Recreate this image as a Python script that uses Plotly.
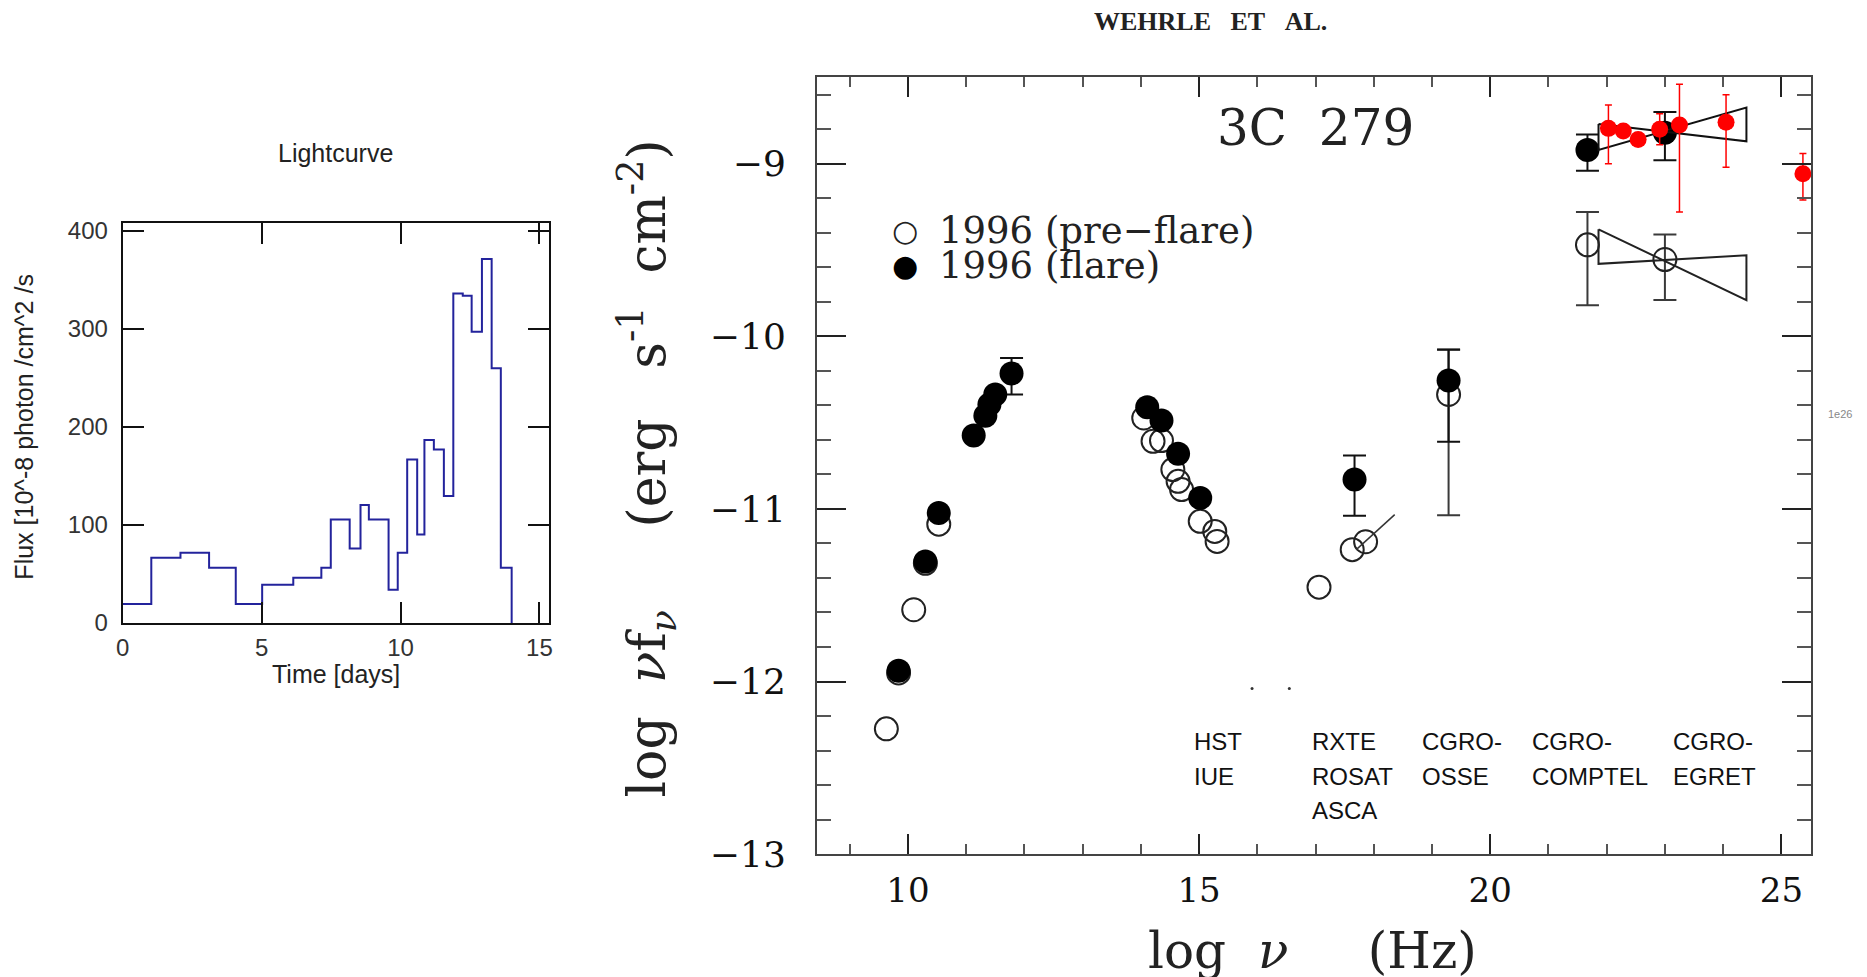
import plotly.graph_objects as go

# ---------------- Lightcurve data ----------------
time_edges = [0, 1.03, 2.08, 3.11, 4.07, 5.02, 6.14, 7.15, 7.49, 8.17, 8.56, 8.86, 9.57,
              9.90, 10.24, 10.60, 10.86, 11.20, 11.56, 11.90, 12.24, 12.56, 12.93, 13.28,
              13.61, 14.0]
flux = [19.4, 66.4, 71.5, 56.2, 19.4, 39.1, 46.0, 56.2, 105.5, 75.9, 120.2, 105.5, 34.0,
        71.5, 166.8, 90.2, 186.6, 177.0, 129.4, 336.0, 333.6, 296.9, 371.1, 259.7, 56.2]

# ---------------- SED data (log nu, log nuFnu) ----------------
flare_x = [9.84, 10.30, 10.53, 11.13, 11.33, 11.40, 11.50, 11.78, 14.11, 14.355, 14.64,
           15.02, 17.67, 19.285, 21.67, 23.00]
flare_y = [-11.938, -11.304, -11.024, -10.575, -10.46, -10.395, -10.337, -10.215, -10.411,
           -10.488, -10.68, -10.937, -10.83, -10.256, -8.92, -8.82]

flare_err_x = [11.78, 17.67, 19.285, 21.67, 23.00]
flare_err_y = [-10.215, -10.83, -10.256, -8.92, -8.82]
flare_err_hi = [0.09, 0.14, 0.18, 0.09, 0.12]
flare_err_lo = [0.122, 0.21, 0.354, 0.12, 0.16]

pre_x = [9.63, 9.84, 10.10, 10.30, 10.53, 14.05, 14.21, 14.355, 14.55, 14.64, 14.70, 15.02,
         15.27, 15.31, 17.06, 17.63, 17.86, 19.285, 21.67, 23.00]
pre_y = [-12.274, -11.95, -11.584, -11.315, -11.088, -10.473, -10.608, -10.604, -10.772,
         -10.84, -10.888, -11.072, -11.13, -11.188, -11.453, -11.236, -11.19, -10.337,
         -9.47, -9.555]

pre_err_x = [19.285, 21.67, 23.00]
pre_err_y = [-10.337, -9.47, -9.555]
pre_err_hi = [0.26, 0.19, 0.145]
pre_err_lo = [0.70, 0.35, 0.235]

egret_x = [22.03, 22.285, 22.54, 22.91, 23.25, 24.05, 25.37]
egret_y = [-8.795, -8.81, -8.86, -8.80, -8.776, -8.76, -9.058]
egret_hi = [0.135, 0, 0, 0.09, 0.236, 0.16, 0.118]
egret_lo = [0.205, 0, 0, 0.09, 0.504, 0.26, 0.152]

# RXTE power-law segment
rxte_x = [17.70, 18.36]
rxte_y = [-11.236, -11.033]

# bow-tie spectral fits: x edges and (top, bottom) at each edge
bow_x = [21.86, 24.40]
bow_flare_left = [-8.77, -8.92]     # top, bottom
bow_flare_right = [-8.675, -8.87]
bow_pre_left = [-9.38, -9.58]
bow_pre_right = [-9.53, -9.79]

stray_x = [15.91, 16.55]
stray_y = [-12.04, -12.04]

band_labels = [("HST", "IUE"), ("RXTE", "ROSAT", "ASCA"), ("CGRO-", "OSSE"),
               ("CGRO-", "COMPTEL"), ("CGRO-", "EGRET")]
band_x = [14.875, 16.90, 18.79, 20.69, 23.10]
band_y0 = -12.35
band_dy = 0.2

# ---------------- page geometry ----------------
W, H = 1867, 1005


def px(v):
    # horizontal position (pixels from left of the reference) -> paper fraction
    return (v - 4.8) / (0.996 * W)


def py(v):
    # vertical position (pixels from top of the reference) -> paper fraction
    return 1 - (v - 5.67) / 976.5


fig = go.Figure()

# ---------------- Lightcurve ----------------
fig.add_trace(go.Scatter(x=time_edges, y=flux + [0], mode="lines", line_shape="hv",
                         line=dict(color="#23239c", width=2), xaxis="x", yaxis="y",
                         showlegend=False, hoverinfo="skip"))

# ---------------- SED ----------------
fig.add_trace(go.Scatter(x=pre_err_x, y=pre_err_y, mode="markers",
                         marker=dict(size=1, color="rgba(0,0,0,0)"),
                         error_y=dict(type="data", array=pre_err_hi, arrayminus=pre_err_lo,
                                      color="#3a3a3a", thickness=2, width=11.5),
                         xaxis="x2", yaxis="y2", showlegend=False))
fig.add_trace(go.Scatter(x=flare_err_x, y=flare_err_y, mode="markers",
                         marker=dict(size=1, color="rgba(0,0,0,0)"),
                         error_y=dict(type="data", array=flare_err_hi, arrayminus=flare_err_lo,
                                      color="#111", thickness=2, width=11.5),
                         xaxis="x2", yaxis="y2", showlegend=False))
fig.add_trace(go.Scatter(x=pre_x, y=pre_y, mode="markers", name="1996 (pre-flare)",
                         marker=dict(symbol="circle-open", size=23, color="#222",
                                     line=dict(width=2)),
                         xaxis="x2", yaxis="y2", showlegend=False))
fig.add_trace(go.Scatter(x=flare_x, y=flare_y, mode="markers", name="1996 (flare)",
                         marker=dict(symbol="circle", size=24, color="#000"),
                         xaxis="x2", yaxis="y2", showlegend=False))

# bow ties
for left, right, col in [(bow_flare_left, bow_flare_right, "#111"),
                         (bow_pre_left, bow_pre_right, "#222")]:
    bx = [bow_x[0], bow_x[1], bow_x[1], bow_x[0], bow_x[0]]
    by = [left[0], right[1], right[0], left[1], left[0]]
    fig.add_trace(go.Scatter(x=bx, y=by, mode="lines", line=dict(color=col, width=2),
                             xaxis="x2", yaxis="y2", showlegend=False, hoverinfo="skip"))

fig.add_trace(go.Scatter(x=rxte_x, y=rxte_y, mode="lines", line=dict(color="#333", width=1.5),
                         xaxis="x2", yaxis="y2", showlegend=False, hoverinfo="skip"))
fig.add_trace(go.Scatter(x=stray_x, y=stray_y, mode="markers",
                         marker=dict(size=3, color="#333"),
                         xaxis="x2", yaxis="y2", showlegend=False, hoverinfo="skip"))

fig.add_trace(go.Scatter(x=egret_x, y=egret_y, mode="markers",
                         marker=dict(symbol="circle", size=17, color="#ff0000"),
                         error_y=dict(type="data", array=egret_hi, arrayminus=egret_lo,
                                      color="#ff0000", thickness=1.5, width=3.5),
                         xaxis="x2", yaxis="y2", showlegend=False))

annotations = []
# band labels
for lines, bx in zip(band_labels, band_x):
    for i, t in enumerate(lines):
        annotations.append(dict(x=bx, y=band_y0 - i * band_dy, xref="x2", yref="y2",
                                text=t, showarrow=False, xanchor="left", yanchor="middle",
                                font=dict(family="Liberation Sans", size=24, color="#111")))

NB = "\u00a0"
annotations += [
    dict(x=17.0, y=-8.795, xref="x2", yref="y2", text="3C" + NB * 2 + "279", showarrow=False,
         font=dict(family="DejaVu Serif", size=50, color="#222"), xanchor="center",
         yanchor="middle"),
    # legend
    dict(x=px(905), y=py(229.8), xref="paper", yref="paper", text="\u25cb", showarrow=False,
         font=dict(family="DejaVu Sans", size=30, color="#222"), xanchor="center",
         yanchor="middle"),
    dict(x=px(905), y=py(264.3), xref="paper", yref="paper", text="\u25cf", showarrow=False,
         font=dict(family="DejaVu Sans", size=30, color="#000"), xanchor="center",
         yanchor="middle"),
    dict(x=px(937), y=py(229.8), xref="paper", yref="paper", text="1996 (pre\u2212flare)",
         showarrow=False, font=dict(family="DejaVu Serif", size=37, color="#222"),
         xanchor="left", yanchor="middle"),
    dict(x=px(937), y=py(264.3), xref="paper", yref="paper", text="1996 (flare)",
         showarrow=False, font=dict(family="DejaVu Serif", size=37, color="#222"),
         xanchor="left", yanchor="middle"),
    # axis titles SED
    dict(x=px(1313), y=py(949), xref="paper", yref="paper",
         text="log" + NB * 2 + "<i>\u03bd</i>" + NB * 5 + "(Hz)", showarrow=False,
         font=dict(family="DejaVu Serif", size=50, color="#222"), xanchor="center",
         yanchor="middle"),
    dict(x=px(646.5), y=py(467), xref="paper", yref="paper", textangle=-90,
         text="log" + NB * 2 + "<i>\u03bd</i>f<sub><i>\u03bd</i></sub>" + NB * 5 + "(erg" + NB * 3
              + "s<sup>-1</sup>" + NB * 2 + "cm<sup>-2</sup>)",
         showarrow=False, font=dict(family="DejaVu Serif", size=52, color="#222"),
         xanchor="center", yanchor="middle"),
    # header
    dict(x=px(1211), y=py(21.4), xref="paper", yref="paper",
         text="<b>WEHRLE" + NB * 3 + "ET" + NB * 3 + "AL.</b>", showarrow=False,
         font=dict(family="Liberation Serif", size=26, color="#222"), xanchor="center",
         yanchor="middle"),
    dict(x=px(1841), y=py(413), xref="paper", yref="paper", text="1e26",
         showarrow=False, font=dict(family="Liberation Sans", size=11, color="#888"),
         xanchor="center", yanchor="middle"),
    # Lightcurve texts
    dict(x=px(334.4), y=py(152), xref="paper", yref="paper", text="Lightcurve",
         showarrow=False, font=dict(family="Liberation Sans", size=25, color="#222"),
         xanchor="center", yanchor="middle"),
    dict(x=px(334.4), y=py(673), xref="paper", yref="paper", text="Time [days]",
         showarrow=False, font=dict(family="Liberation Sans", size=25, color="#222"),
         xanchor="center", yanchor="middle"),
    dict(x=px(21.7), y=py(425.8), xref="paper", yref="paper", textangle=-90,
         text="Flux [10^-8 photon /cm^2 /s", showarrow=False,
         font=dict(family="Liberation Sans", size=25, color="#222"), xanchor="center",
         yanchor="middle"),
]

common_lc = dict(showline=True, linecolor="#111", linewidth=2, mirror="ticks", ticks="inside",
                 ticklen=21, tickwidth=2, tickcolor="#111", showgrid=False, zeroline=False,
                 tickfont=dict(family="Liberation Sans", size=24, color="#333"))
common_sed = dict(showline=True, linecolor="#444", linewidth=2, mirror="ticks", ticks="inside",
                  tickwidth=2, tickcolor="#222", showgrid=False, zeroline=False)

fig.update_layout(
    width=W, height=H, margin=dict(l=0, r=0, t=0, b=0),
    paper_bgcolor="white", plot_bgcolor="white",
    xaxis=dict(domain=[px(120.7), px(548)], range=[0, 15.35], anchor="y", dtick=5, tick0=0,
               ticklabelstandoff=2, **common_lc),
    yaxis=dict(domain=[py(621.7), py(222.7)], range=[0, 407.5], anchor="x", dtick=100,
               tick0=0, ticklabelstandoff=8, **common_lc),
    xaxis2=dict(domain=[px(816.4), px(1812.3)], range=[8.44, 25.51], anchor="y2", dtick=5,
                tick0=0, ticklen=20,
                minor=dict(dtick=1, ticklen=10, tickwidth=2, tickcolor="#555", ticks="inside"),
                tickfont=dict(family="DejaVu Serif", size=34, color="#111"),
                ticklabelstandoff=5, **common_sed),
    yaxis2=dict(domain=[py(852.5), py(76.5)], range=[-13, -8.497], anchor="x2", dtick=1,
                tick0=0, ticklen=29,
                minor=dict(dtick=0.2, ticklen=14, tickwidth=2, tickcolor="#555", ticks="inside"),
                tickfont=dict(family="DejaVu Serif", size=36, color="#111"),
                ticklabelstandoff=22, **common_sed),
    annotations=annotations,
)

fig.write_html("out.html")
